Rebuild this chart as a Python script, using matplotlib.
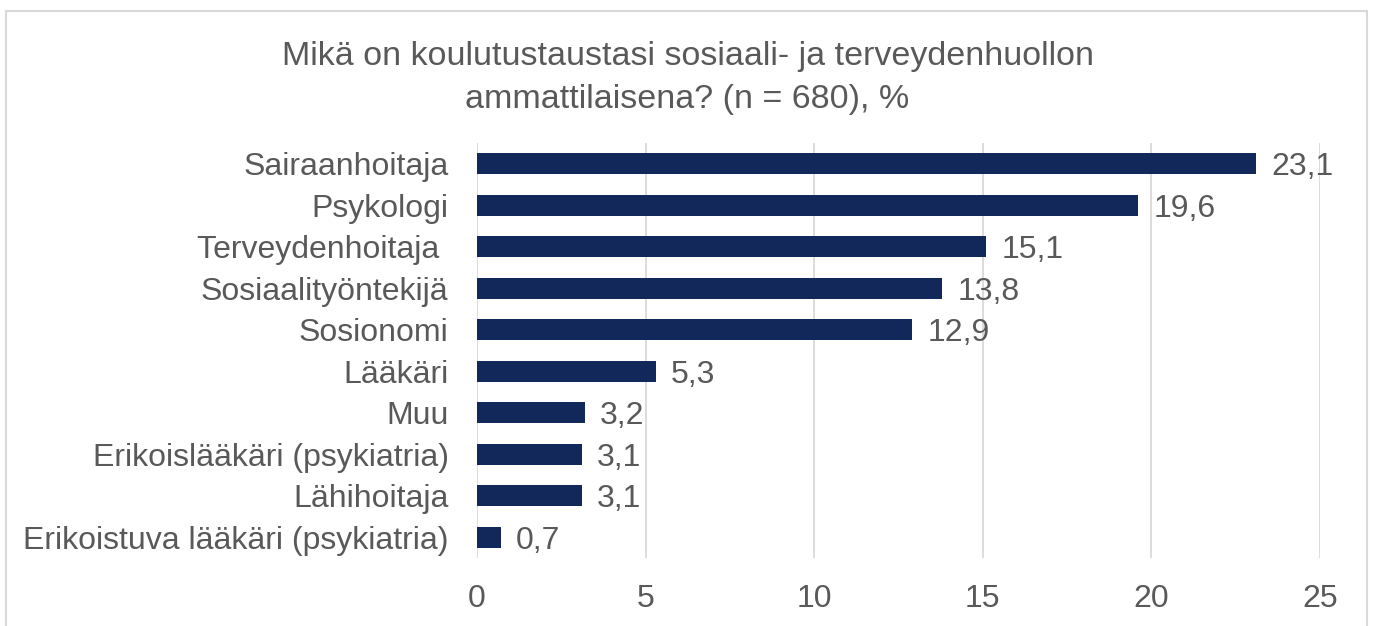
import matplotlib.pyplot as plt
from matplotlib.patches import Rectangle

categories = ['Sairaanhoitaja', 'Psykologi', 'Terveydenhoitaja ', 'Sosiaalityöntekijä',
              'Sosionomi', 'Lääkäri', 'Muu', 'Erikoislääkäri (psykiatria)',
              'Lähihoitaja', 'Erikoistuva lääkäri (psykiatria)']
values = [23.1, 19.6, 15.1, 13.8, 12.9, 5.3, 3.2, 3.1, 3.1, 0.7]
xticks = [0, 5, 10, 15, 20, 25]

title_lines = ['Mikä on koulutustaustasi sosiaali- ja terveydenhuollon',
               'ammattilaisena? (n = 680), %']
bar_color = '#12285a'
text_color = '#595959'
grid_color = '#d9d9d9'

plt.rcParams['font.family'] = ['Liberation Sans', 'DejaVu Sans']

fig = plt.figure(figsize=(13.75, 6.26), dpi=100)
ax = fig.add_axes([477 / 1375, 68 / 626, 843 / 1375, 415 / 626])

ypos = list(range(len(categories)))
ax.barh(ypos, values, height=0.5, color=bar_color, zorder=3)

# value labels, digits centred on the bar
for y, v in zip(ypos, values):
    ax.annotate(f'{v:.1f}'.replace('.', ','), (v, y), xytext=(11, -8.2),
                textcoords='offset points', va='baseline', ha='left',
                fontsize=23, color=text_color)

# category labels drawn by hand so the caps line up with the bar centre
ax.set_yticks(ypos)
ax.set_yticklabels([])
for y, c in zip(ypos, categories):
    ax.annotate(c, (0, y), xycoords=('axes fraction', 'data'), xytext=(-20.5, -8.2),
                textcoords='offset points', va='baseline', ha='right',
                fontsize=23, color=text_color)

ax.set_ylim(len(categories) - 0.5, -0.5)
ax.set_xlim(0, 25)
ax.set_xticks(xticks)
ax.set_xticklabels([str(t) for t in xticks], fontsize=23, color=text_color)
ax.tick_params(axis='y', length=0)
ax.tick_params(axis='x', length=0, pad=19)
ax.grid(axis='x', color=grid_color, linewidth=1.3, zorder=0)
for s in ax.spines.values():
    s.set_visible(False)

for i, line in enumerate(title_lines):
    fig.text(0.5, 1 - (65 + 43 * i) / 626, line, ha='center', va='baseline',
             fontsize=24.5, color=text_color)

# outer chart frame (cropped at the bottom)
fig.patches.append(Rectangle((6 / 1375, -0.05), 1361 / 1375, 1.05 - 11 / 626,
                             transform=fig.transFigure, fill=False,
                             edgecolor=grid_color, linewidth=1.5))

fig.savefig('out.png', dpi=100, facecolor='white')
